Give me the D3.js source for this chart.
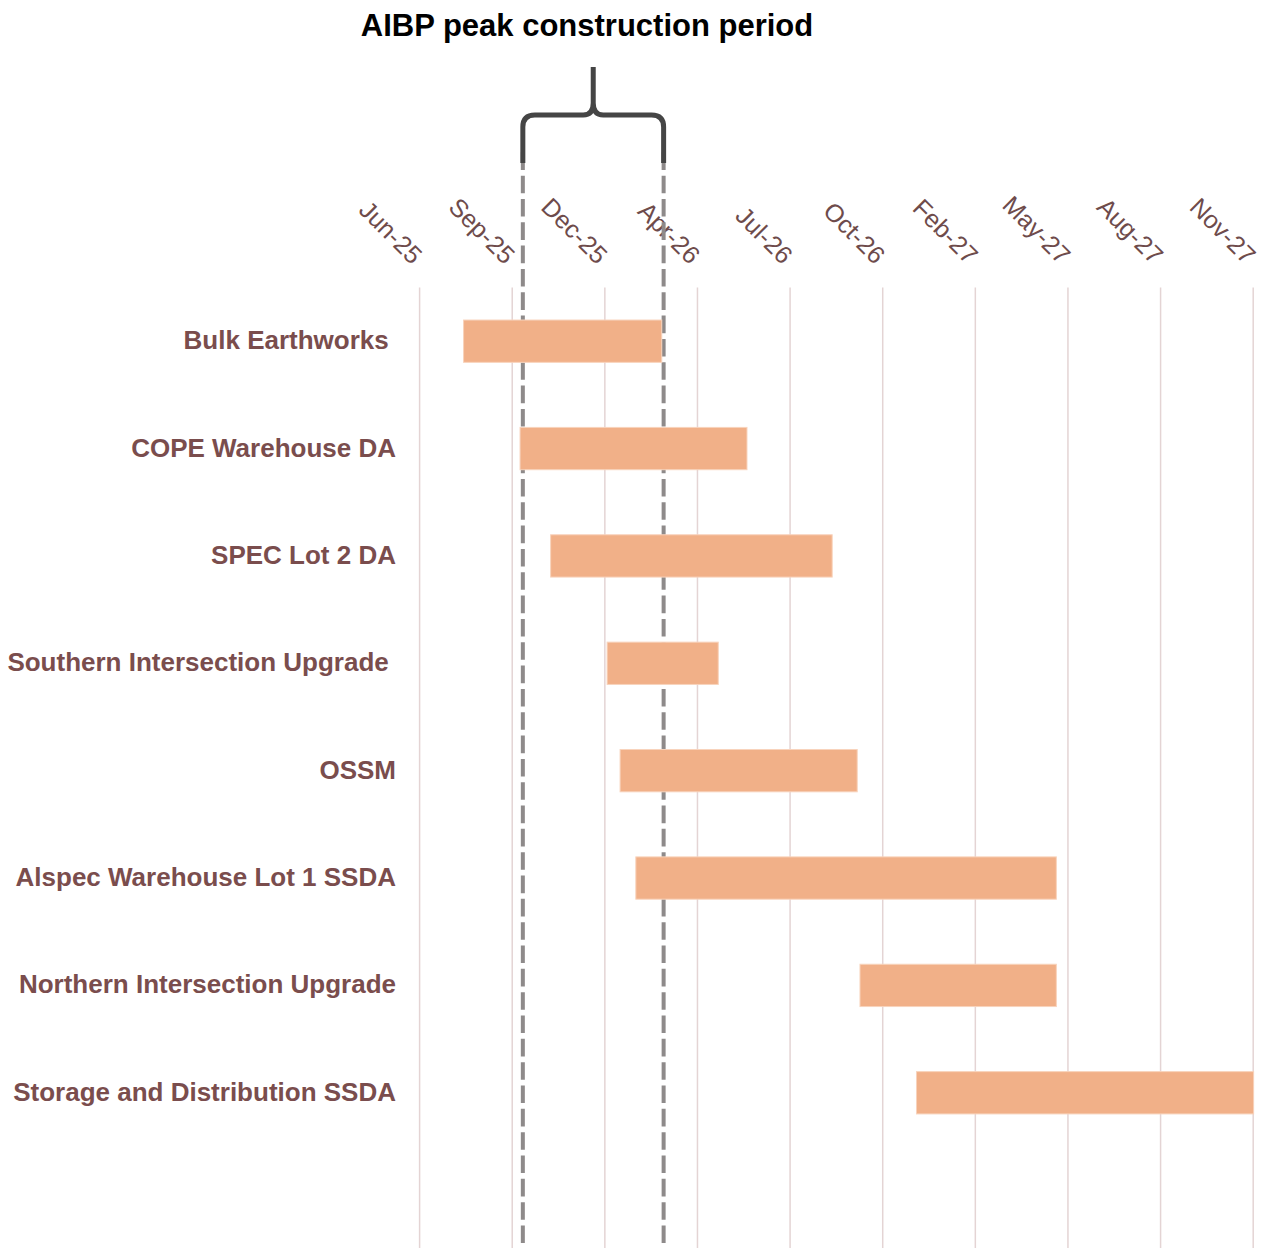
<!DOCTYPE html>
<html>
<head>
<meta charset="utf-8">
<script src="https://cdn.jsdelivr.net/npm/d3@7"></script>
<style>
  body { margin: 0; background: #fff; }
  svg { display: block; font-family: "Liberation Sans", Arial, sans-serif; }
</style>
</head>
<body>
<div id="chart"></div>
<script>
// tasks (trailing spaces kept as in the source labels)
const tasks = [
  "Bulk Earthworks ",
  "COPE Warehouse DA",
  "SPEC Lot 2 DA",
  "Southern Intersection Upgrade ",
  "OSSM",
  "Alspec Warehouse Lot 1 SSDA",
  "Northern Intersection Upgrade",
  "Storage and Distribution SSDA"
];
const startDates = ["2025-07-30", "2025-09-29", "2025-11-01", "2026-01-01", "2026-01-15", "2026-02-01", "2026-10-01", "2026-12-01"];
const endDates   = ["2026-03-01", "2026-06-01", "2026-09-01", "2026-05-01", "2026-09-28", "2027-05-01", "2027-05-01", "2027-11-30"];

// axis ticks every 100 days
const tickDates = ["2025-06-12", "2025-09-20", "2025-12-29", "2026-04-08", "2026-07-17",
                   "2026-10-25", "2027-02-02", "2027-05-13", "2027-08-21", "2027-11-29"];

// peak construction window
const peakPeriod = ["2025-10-02", "2026-03-03"];
const title = "AIBP peak construction period";

const parse = d3.utcParse("%Y-%m-%d");
const fmt = d3.utcFormat("%b-%y");

const width = 1266, height = 1249;
const plotTop = 287.5, plotBottom = 1248;
const plotLeft = 419.1, plotRight = 1252.7;

const svg = d3.select("#chart").append("svg")
  .attr("width", width)
  .attr("height", height);

const x = d3.scaleUtc()
  .domain([parse(tickDates[0]), parse(tickDates[tickDates.length - 1])])
  .range([plotLeft, plotRight]);

const y = d3.scaleBand()
  .domain(tasks)
  .range([plotTop, plotTop + 8 * 107.37])
  .paddingInner(0.606)
  .paddingOuter(0.303);

// gridlines + rotated labels
const gridH = plotBottom - plotTop;
const axis = svg.append("g")
  .attr("transform", `translate(0,${plotBottom})`)
  .call(d3.axisTop(x)
    .tickValues(tickDates.map(parse))
    .tickFormat(fmt)
    .tickSize(gridH)
    .tickSizeOuter(0));
axis.select(".domain").remove();
axis.selectAll(".tick line")
  .attr("stroke", "#e4d4d4")
  .attr("stroke-width", 1.5);
axis.selectAll(".tick text")
  .attr("x", 0).attr("y", 0).attr("dy", 0)
  .attr("transform", `translate(-8,${-gridH - 22}) rotate(45)`)
  .attr("text-anchor", "end")
  .attr("fill", "#6e4b4b")
  .style("font-size", "25px")
  .style("font-family", "'Liberation Sans', Arial, sans-serif");

// dashed lines for peak period
const peakX = peakPeriod.map(d => x(parse(d)));
svg.append("g").selectAll("line")
  .data(peakX)
  .enter().append("line")
  .attr("x1", d => d).attr("x2", d => d)
  .attr("y1", 152.3).attr("y2", 1243.3)
  .attr("stroke", "#8e8a8a")
  .attr("stroke-width", 4)
  .attr("stroke-dasharray", "17.6 5.73");

// bars
svg.append("g").selectAll("rect")
  .data(tasks)
  .enter().append("rect")
  .attr("x", (d, i) => x(parse(startDates[i])))
  .attr("width", (d, i) => x(parse(endDates[i])) - x(parse(startDates[i])))
  .attr("y", d => y(d))
  .attr("height", y.bandwidth())
  .attr("fill", "#f1b088")
  .attr("stroke", "#f8d3bc")
  .attr("stroke-width", 1);

// category labels
svg.append("g").selectAll("text")
  .data(tasks)
  .enter().append("text")
  .attr("x", 396)
  .attr("y", d => y(d) + y.bandwidth() / 2 + 8)
  .attr("text-anchor", "end")
  .attr("fill", "#7a4d4d")
  .style("font-size", "26px")
  .style("font-weight", "bold")
  .style("white-space", "pre")
  .text(d => d);

// curly brace over the peak period
const [bx0, bx1] = peakX;
const bm = (bx0 + bx1) / 2;
const braceY = 115, braceTop = 67, braceBottom = 163, r = 12;
const brace = d3.path();
brace.moveTo(bx0, braceBottom);
brace.lineTo(bx0, braceY + r);
brace.quadraticCurveTo(bx0, braceY, bx0 + r, braceY);
brace.lineTo(bm - 10, braceY);
brace.quadraticCurveTo(bm, braceY, bm, braceY - 12);
brace.lineTo(bm, braceTop);
brace.moveTo(bm, braceY - 12);
brace.quadraticCurveTo(bm, braceY, bm + 10, braceY);
brace.lineTo(bx1 - r, braceY);
brace.quadraticCurveTo(bx1, braceY, bx1, braceY + r);
brace.lineTo(bx1, braceBottom);
svg.append("path")
  .attr("d", brace.toString())
  .attr("fill", "none")
  .attr("stroke", "#454545")
  .attr("stroke-width", 5)
  .attr("stroke-linejoin", "round");

// title
svg.append("text")
  .attr("x", 587)
  .attr("y", 35.5)
  .attr("text-anchor", "middle")
  .attr("fill", "#000")
  .style("font-size", "31px")
  .style("font-weight", "bold")
  .text(title);
</script>
</body>
</html>
